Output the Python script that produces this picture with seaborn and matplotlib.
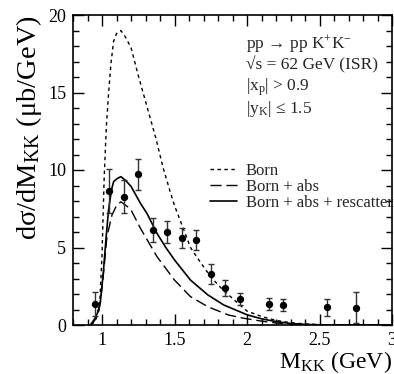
import matplotlib
matplotlib.use("Agg")
import matplotlib.pyplot as plt
import seaborn as sns
import numpy as np
import pandas as pd
from matplotlib.ticker import MultipleLocator, FuncFormatter

# ---- data ----
data_x = [0.95, 1.05, 1.15, 1.25, 1.35, 1.45, 1.55, 1.65, 1.75, 1.85, 1.95, 2.15, 2.25, 2.55, 2.75]
data_y = [1.35, 8.65, 8.28, 9.72, 6.13, 6.0, 5.63, 5.5, 3.3, 2.4, 1.66, 1.35, 1.3, 1.14, 1.1]
data_err = [0.75, 1.4, 1.05, 1.0, 0.8, 0.7, 0.65, 0.65, 0.65, 0.5, 0.4, 0.4, 0.4, 0.55, 1.0]

born_x = [0.93, 0.96, 0.985, 1.0, 1.015, 1.03, 1.045, 1.062, 1.08, 1.10, 1.13, 1.16, 1.20,
          1.25, 1.31, 1.37, 1.42, 1.47, 1.50, 1.57, 1.61, 1.66, 1.72, 1.77, 1.83, 1.89,
          1.95, 2.0, 2.1, 2.2, 2.3, 2.4, 2.5, 2.6, 2.8, 3.0]
born_y = [0.0, 0.4, 1.5, 4.5, 9.5, 12.8, 14.9, 16.9, 18.3, 18.8, 19.0, 18.6, 17.9,
          16.1, 14.1, 12.1, 10.2, 8.6, 7.7, 6.0, 5.0, 4.3, 3.5, 2.9, 2.3, 1.8,
          1.3, 0.9, 0.55, 0.3, 0.15, 0.07, 0.03, 0.01, 0.0, 0.0]

abs_x = [0.92, 0.95, 0.975, 0.99, 1.01, 1.034, 1.069, 1.10, 1.13, 1.196, 1.265, 1.38,
         1.50, 1.61, 1.73, 1.87, 1.98, 2.1, 2.2, 2.3, 2.4, 2.5, 2.7, 3.0]
abs_y = [0.0, 0.3, 0.8, 1.5, 3.3, 5.7, 7.1, 7.7, 7.95, 7.5, 6.24, 4.4,
         2.9, 1.83, 1.18, 0.65, 0.43, 0.25, 0.13, 0.06, 0.02, 0.01, 0.0, 0.0]

resc_x = [0.92, 0.95, 0.975, 0.99, 1.01, 1.027, 1.045, 1.065, 1.08, 1.105, 1.13, 1.16, 1.20,
          1.265, 1.31, 1.38, 1.44, 1.50, 1.61, 1.73, 1.84, 2.0, 2.1, 2.2, 2.3, 2.4,
          2.5, 2.7, 3.0]
resc_y = [0.0, 0.4, 0.9, 1.6, 3.5, 5.5, 7.4, 8.7, 9.25, 9.45, 9.57, 9.35, 8.95,
          7.85, 7.2, 5.9, 5.0, 4.2, 2.9, 1.94, 1.29, 0.66, 0.4, 0.22, 0.1, 0.04,
          0.01, 0.0, 0.0]

labels = ["Born", "Born + abs", "Born + abs + rescattering"]
x_ticks = [1, 1.5, 2, 2.5, 3]
y_ticks = [0, 5, 10, 15, 20]

# ---- style ----
sns.set_theme(style="ticks")
plt.rcParams['font.family'] = ['Liberation Serif', 'DejaVu Serif']
plt.rcParams['mathtext.fontset'] = 'custom'
plt.rcParams['mathtext.rm'] = 'Liberation Serif'
plt.rcParams['mathtext.it'] = 'Liberation Serif:italic'
plt.rcParams['mathtext.bf'] = 'Liberation Serif:bold'

fig = plt.figure(figsize=(3.94, 3.74), dpi=100)
ax = fig.add_axes([73/394, 1-325/374, 319/394, 310/374])

sns.lineplot(x=born_x, y=born_y, ax=ax, color='black', lw=1.0,
             linestyle=(0, (2.5, 2.5)), label=labels[0])
sns.lineplot(x=abs_x, y=abs_y, ax=ax, color='black', lw=1.0,
             linestyle=(0, (8, 3.5)), label=labels[1])
sns.lineplot(x=resc_x, y=resc_y, ax=ax, color='black', lw=1.2,
             linestyle='-', label=labels[2])

ax.errorbar(data_x, data_y, yerr=data_err, fmt='none', ecolor='#333333',
            elinewidth=1.0, capsize=2.5, capthick=1.0)
sns.scatterplot(x=data_x, y=data_y, ax=ax, color='black', s=28, edgecolor='black',
                linewidth=0, zorder=5)

ax.set_xlim(0.8, 3.0)
ax.set_ylim(0, 20)
ax.set_xticks(x_ticks)
ax.set_yticks(y_ticks)
ax.xaxis.set_minor_locator(MultipleLocator(0.1))
ax.yaxis.set_minor_locator(MultipleLocator(1))
ax.xaxis.set_major_formatter(FuncFormatter(lambda v, p: f"{v:g}"))
ax.tick_params(which='both', direction='in', top=True, right=True,
               color='black', width=1.0, labelsize=13, pad=5, labelcolor='black')
ax.tick_params(which='major', length=8)
ax.tick_params(which='minor', length=4)
for sp in ax.spines.values():
    sp.set_linewidth(1.2)
    sp.set_color('black')

ax.set_xlabel(r"M$_\mathrm{KK}$ (GeV)", fontsize=17, loc='right', labelpad=0, color='black')
ax.set_ylabel(r"dσ/dM$_\mathrm{KK}$ (μb/GeV)", fontsize=20.5, loc='top', labelpad=3,
              color='black')

tx = (246-73)/319
ax.text(tx, 0.894, r"pp → pp K$^\mathrm{+}$K$^\mathrm{-}$", transform=ax.transAxes,
        fontsize=12.5, va='baseline', ha='left')
ax.text(tx, 0.823, "√s = 62 GeV (ISR)", transform=ax.transAxes,
        fontsize=12.5, va='baseline', ha='left')
ax.text(tx, 0.755, r"|x$_\mathrm{p}$| > 0.9", transform=ax.transAxes,
        fontsize=12.5, va='baseline', ha='left')
ax.text(tx, 0.684, "|y$_\\mathrm{K}$| ≤ 1.5", transform=ax.transAxes,
        fontsize=12.5, va='baseline', ha='left')

leg = ax.legend(loc='upper left', bbox_to_anchor=((210-73)/319, (325-163)/310),
                frameon=False, fontsize=12, handlelength=1.6, handletextpad=0.55,
                labelspacing=0.0, borderpad=0, borderaxespad=0)

fig.savefig("out.png", dpi=100)
